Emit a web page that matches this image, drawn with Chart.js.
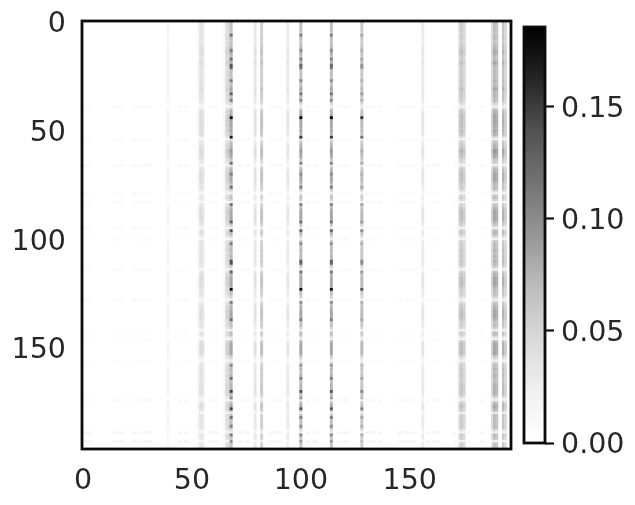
<!DOCTYPE html>
<html>
<head>
<meta charset="utf-8">
<script src="https://cdn.jsdelivr.net/npm/chart.js@4"></script>
<style>
  body { margin: 0; background: #fff; }
  canvas { position: absolute; top: 0; }
</style>
</head>
<body>
<canvas id="matrix" width="635" height="505" style="left:0"></canvas>
<canvas id="scale" width="125" height="505" style="left:510px"></canvas>
<script>
const rowCount = 197;
const axisTicks = [0, 50, 100, 150];
const colorTicks = [0, 0.05, 0.1, 0.15];
const colorMax = 0.1857;

// columns that hold a stripe and their usual level
const stripeCols = [39, 53, 54, 55, 65, 66, 67, 68, 79, 82, 94, 100, 114, 128, 156, 173, 174, 175, 188, 189, 190, 193, 194];
const stripeLevels = [0.015, 0.012, 0.04, 0.035, 0.012, 0.045, 0.05, 0.075, 0.035, 0.06, 0.03, 0.075, 0.075, 0.065, 0.03, 0.05, 0.065, 0.05, 0.05, 0.08, 0.07, 0.07, 0.05];

// how strong each row is, in tenths, read down the stripes
const rowTone = [
  9, 9, 9, 9, 9, 8, 9, 9, 9, 8,
  9, 9, 10, 10, 11, 10, 9, 9, 10, 11,
  10, 9, 9, 9, 9, 9, 9, 10, 9, 9,
  10, 11, 10, 9, 10, 9, 9, 8, 6, 3,
  7, 10, 10, 11, 11, 11, 11, 11, 11, 10,
  11, 10, 10, 7, 3, 8, 9, 10, 10, 12,
  12, 11, 11, 9, 8, 7, 3, 8, 10, 10,
  11, 11, 11, 11, 10, 9, 9, 9, 6, 3,
  8, 9, 7, 3, 8, 9, 10, 11, 11, 11,
  11, 11, 10, 9, 7, 3, 9, 10, 9, 6,
  3, 8, 9, 9, 9, 10, 9, 9, 10, 9,
  10, 9, 9, 7, 3, 8, 10, 10, 11, 11,
  11, 11, 10, 9, 9, 9, 8, 6, 3, 7,
  9, 10, 10, 11, 11, 11, 11, 10, 9, 9,
  9, 7, 3, 9, 9, 6, 3, 9, 11, 11,
  11, 11, 11, 11, 8, 6, 3, 7, 9, 9,
  10, 9, 9, 10, 9, 9, 9, 10, 10, 10,
  10, 10, 9, 6, 3, 8, 10, 11, 10, 9,
  4, 9, 9, 9, 9, 9, 9, 9, 6, 3,
  9, 9, 8, 3, 8, 9, 8
];

// dark spots on the thin columns
const spotCols = [68, 100, 114, 128];
const spotColScale = [1, 0.9, 0.9, 0.7];
const spotRows = [6, 13, 17, 20, 21, 27, 33, 36, 44, 53, 65, 70, 76, 84, 92, 96, 102, 110, 111, 115, 123, 129, 137, 158, 164, 170, 173, 178, 182, 186, 190, 193];
const spotLevels = [0.12, 0.11, 0.12, 0.14, 0.13, 0.11, 0.13, 0.11, 0.22, 0.17, 0.12, 0.11, 0.12, 0.12, 0.13, 0.14, 0.11, 0.14, 0.14, 0.13, 0.2, 0.11, 0.12, 0.1, 0.12, 0.15, 0.1, 0.15, 0.12, 0.11, 0.11, 0.1];

// faint patchy rows
const bandRows = [39, 54, 66, 79, 83, 95, 100, 114, 128, 142, 146, 156, 174, 189, 193];
const bandLevels = [0.009, 0.008, 0.011, 0.008, 0.007, 0.008, 0.006, 0.007, 0.007, 0.004, 0.005, 0.006, 0.01, 0.014, 0.014];
const bandCols = [1, 2, 3, 14, 15, 17, 18, 23, 24, 26, 27, 29, 30, 31, 44, 45, 47, 48, 58, 59, 61, 62, 72, 73, 75, 76, 86, 87, 89, 90, 91, 103, 104, 106, 107, 117, 118, 120, 121, 122, 130, 131, 133, 134, 136, 137, 145, 146, 148, 149, 151, 152, 158, 159, 161, 162, 163, 171, 177, 183, 184];

const greyStops = [[0, 255], [0.125, 240], [0.25, 217], [0.375, 189], [0.5, 150], [0.625, 115], [0.75, 82], [0.875, 37], [1, 0]];

function shade(v) {
    const t = Math.min(v / colorMax, 1);
    for (let i = 1; i < greyStops.length; i++) {
        if (t <= greyStops[i][0]) {
            const [t0, g0] = greyStops[i - 1];
            const [t1, g1] = greyStops[i];
            const g = Math.round(g0 + (g1 - g0) * (t - t0) / (t1 - t0));
            return 'rgb(' + g + ',' + g + ',' + g + ')';
        }
    }
    return 'rgb(0,0,0)';
}

const cells = [];
bandRows.forEach((row, i) => {
    bandCols.forEach(col => cells.push({ col: col, row: row, v: bandLevels[i] }));
});
stripeCols.forEach((col, i) => {
    for (let row = 0; row < rowCount; row++) {
        cells.push({ col: col, row: row, v: stripeLevels[i] * rowTone[row] / 10 });
    }
});
spotCols.forEach((col, i) => {
    spotRows.forEach((row, j) => cells.push({ col: col, row: row, v: spotLevels[j] * spotColScale[i] }));
});

const softenPlugin = {
    id: 'soften',
    afterDatasetsDraw(chart) {
        const { ctx, canvas, chartArea: a } = chart;
        const copy = document.createElement('canvas');
        copy.width = canvas.width;
        copy.height = canvas.height;
        const c2 = copy.getContext('2d');
        c2.fillStyle = '#fff';
        c2.fillRect(0, 0, copy.width, copy.height);
        c2.drawImage(canvas, 0, 0);
        ctx.save();
        ctx.beginPath();
        ctx.rect(a.left, a.top, a.right - a.left, a.bottom - a.top);
        ctx.clip();
        ctx.filter = 'blur(0.6px)';
        ctx.drawImage(copy, 0, 0);
        ctx.restore();
    }
};

const framePlugin = {
    id: 'frame',
    afterDraw(chart) {
        const { ctx, chartArea: a } = chart;
        ctx.save();
        ctx.strokeStyle = '#0a0a0a';
        ctx.lineWidth = 2.8;
        ctx.strokeRect(a.left, a.top, a.right - a.left, a.bottom - a.top);
        ctx.restore();
    }
};

const tickFont = { family: 'DejaVu Sans', size: 28.5 };

new Chart(document.getElementById('matrix'), {
    type: 'bar',
    data: {
        datasets: [{
            data: cells.map(c => ({ x: c.col, y: [c.row - 0.5, c.row + 0.5] })),
            backgroundColor: cells.map(c => shade(c.v)),
            barThickness: 2.2,
            borderWidth: 0
        }]
    },
    plugins: [softenPlugin, framePlugin],
    options: {
        responsive: false,
        animation: false,
        events: [],
        layout: { padding: { top: 21, right: 124, left: 0, bottom: 0 } },
        plugins: { legend: { display: false }, tooltip: { enabled: false } },
        scales: {
            x: {
                type: 'linear',
                offset: false,
                min: -0.5,
                max: 196.5,
                grid: { display: false, drawTicks: false },
                border: { display: false },
                afterBuildTicks: s => { s.ticks = axisTicks.map(v => ({ value: v })); },
                afterFit: s => { s.height = 56; s.paddingLeft = 0; s.paddingRight = 0; },
                ticks: { color: '#262626', font: tickFont, padding: 15, maxRotation: 0, autoSkip: false, callback: v => String(v) }
            },
            y: {
                type: 'linear',
                reverse: true,
                min: -0.5,
                max: 196.5,
                grid: { display: false, drawTicks: false },
                border: { display: false },
                afterBuildTicks: s => { s.ticks = axisTicks.map(v => ({ value: v })); },
                afterFit: s => { s.width = 82; s.paddingTop = 0; s.paddingBottom = 0; },
                ticks: { color: '#262626', font: tickFont, padding: 16, labelOffset: 3, autoSkip: false, callback: v => String(v) }
            }
        }
    }
});

new Chart(document.getElementById('scale'), {
    type: 'bar',
    data: {
        labels: ['scale'],
        datasets: [{
            data: [[0, colorMax]],
            backgroundColor: ctx => {
                const area = ctx.chart.chartArea;
                if (!area) return '#888';
                const g = ctx.chart.ctx.createLinearGradient(0, area.bottom, 0, area.top);
                greyStops.forEach(s => g.addColorStop(s[0], 'rgb(' + s[1] + ',' + s[1] + ',' + s[1] + ')'));
                return g;
            },
            barPercentage: 1,
            categoryPercentage: 1,
            borderWidth: 0
        }]
    },
    plugins: [framePlugin],
    options: {
        responsive: false,
        animation: false,
        events: [],
        layout: { padding: { top: 27, left: 14, right: 0, bottom: 62 } },
        plugins: { legend: { display: false }, tooltip: { enabled: false } },
        scales: {
            x: { display: false },
            y: {
                position: 'right',
                min: 0,
                max: colorMax,
                grid: { drawOnChartArea: false, tickLength: 9, tickWidth: 2.2, tickColor: '#111' },
                border: { display: false },
                afterBuildTicks: s => { s.ticks = colorTicks.map(v => ({ value: v })); },
                afterFit: s => { s.width = 90; s.paddingTop = 0; s.paddingBottom = 0; },
                ticks: { color: '#262626', font: tickFont, padding: 7, labelOffset: 3, autoSkip: false, callback: v => v.toFixed(2) }
            }
        }
    }
});
</script>
</body>
</html>
